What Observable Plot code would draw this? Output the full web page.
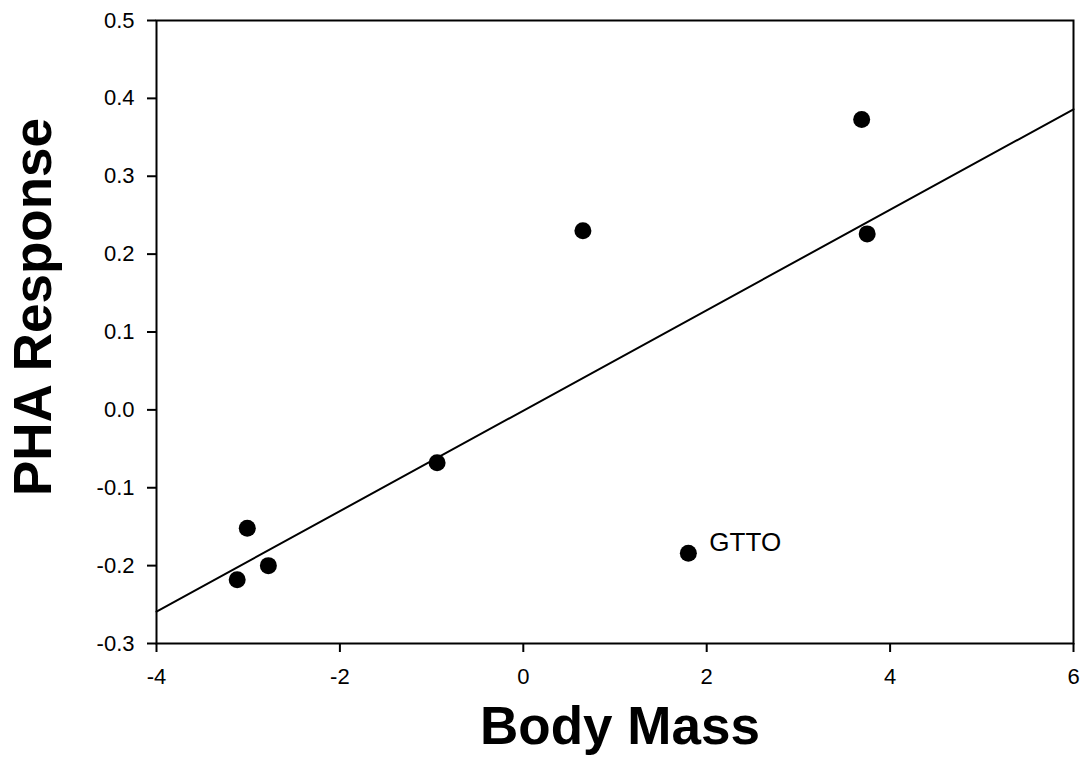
<!DOCTYPE html>
<html>
<head>
<meta charset="utf-8">
<script src="https://cdn.jsdelivr.net/npm/d3@7"></script>
<script src="https://cdn.jsdelivr.net/npm/@observablehq/plot@0.6"></script>
<style>
  body { margin: 0; background: #fff; }
  #chart svg { display: block; }
</style>
</head>
<body>
<div id="chart"></div>
<script>
// Data
const bodyMass = [-3.12, -3.01, -2.78, -0.94, 0.65, 1.80, 3.69, 3.75];
const phaResponse = [-0.218, -0.152, -0.200, -0.068, 0.230, -0.184, 0.373, 0.226];
const pointLabels = ["", "", "", "", "", "GTTO", "", ""];
// Regression line end points
const fitX = [-4, 6];
const fitY = [-0.259, 0.386];
const xTicks = [-4, -2, 0, 2, 4, 6];
const yTicks = [-0.3, -0.2, -0.1, 0.0, 0.1, 0.2, 0.3, 0.4, 0.5];
const xTitle = "Body Mass";
const yTitle = "PHA Response";

const points = bodyMass.map((x, i) => ({x, y: phaResponse[i], label: pointLabels[i]}));
const fit = fitX.map((x, i) => ({x, y: fitY[i]}));

const font = "'Liberation Sans', Arial, Helvetica, sans-serif";

const chart = Plot.plot({
  width: 1090,
  height: 779,
  marginLeft: 156,
  marginRight: 17,
  marginTop: 20,
  marginBottom: 136,
  style: {fontFamily: font, background: "#fff", color: "#000"},
  x: {domain: [-4, 6], ticks: xTicks, tickFormat: d => String(d)},
  y: {domain: [-0.3, 0.5], ticks: yTicks, tickFormat: d => d.toFixed(1)},
  marks: [
    Plot.frame({stroke: "#000", strokeWidth: 2}),
    Plot.axisX({ticks: xTicks, tickFormat: d => String(d), tickSize: 9, tickPadding: 16, fontSize: 22, label: null, stroke: "#000", strokeWidth: 2}),
    Plot.axisY({ticks: yTicks, tickFormat: d => d.toFixed(1), tickSize: 9, tickPadding: 13, fontSize: 22, label: null, stroke: "#000", strokeWidth: 2}),
    Plot.line(fit, {x: "x", y: "y", stroke: "#000", strokeWidth: 2}),
    Plot.dot(points, {x: "x", y: "y", r: 8.5, fill: "#000", stroke: "none"}),
    Plot.text(points, {x: "x", y: "y", text: "label", textAnchor: "start", dx: 21, dy: -10, fontSize: 26, fill: "#000"}),
    Plot.text([xTitle], {frameAnchor: "bottom", text: d => d, dx: 5, dy: 84, fontSize: 53, fontWeight: "bold", fill: "#000", lineAnchor: "middle", textAnchor: "middle"}),
    Plot.text([yTitle], {frameAnchor: "left", text: d => d, dx: -122, dy: -25, rotate: -90, fontSize: 53, fontWeight: "bold", fill: "#000", lineAnchor: "middle", textAnchor: "middle"})
  ]
});

document.getElementById("chart").appendChild(chart);
</script>
</body>
</html>
